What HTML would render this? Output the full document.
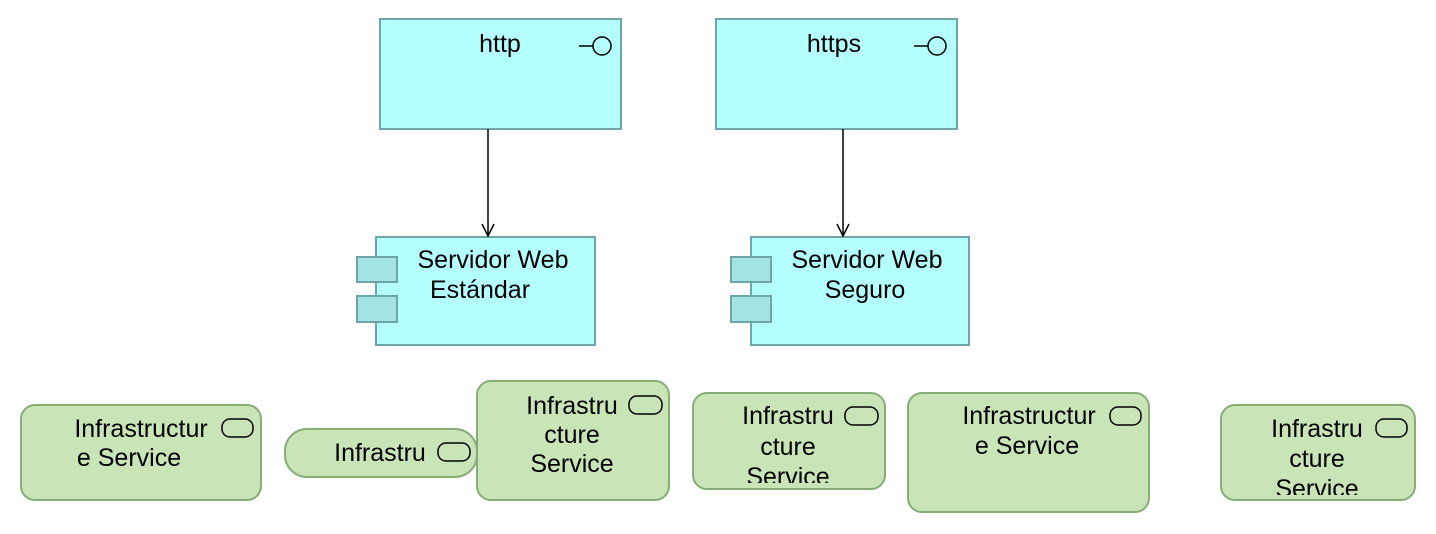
<!DOCTYPE html>
<html><head><meta charset="utf-8"><style>
html,body{margin:0;padding:0;background:#fff;}
svg{display:block}
text{font-family:"Liberation Sans",sans-serif;font-size:25px;fill:#000;text-anchor:middle}
</style></head><body>
<svg width="1436" height="534" viewBox="0 0 1436 534">
<defs>
<clipPath id="c4"><rect x="693" y="393" width="192" height="90"/></clipPath>
<clipPath id="c6"><rect x="1221" y="405" width="194" height="90"/></clipPath>
<marker id="a" markerWidth="14" markerHeight="14" refX="13" refY="7" orient="auto" markerUnits="userSpaceOnUse"><path d="M1,1 L13,7 L1,13" fill="none" stroke="#000" stroke-width="1.5"/></marker>
</defs>
<g stroke="#6fa5a5" stroke-width="2" fill="#b4ffff">
<rect x="380" y="19" width="241" height="110"/>
<rect x="716" y="19" width="241" height="110"/>
<rect x="376" y="237" width="219" height="108"/>
<rect x="751" y="237" width="218" height="108"/>
<rect x="357" y="257" width="40" height="25" fill="#a3e3e3"/>
<rect x="357" y="296" width="40" height="26" fill="#a3e3e3"/>
<rect x="731" y="257" width="40" height="25" fill="#a3e3e3"/>
<rect x="731" y="296" width="40" height="26" fill="#a3e3e3"/>
</g>
<g stroke="#000" stroke-width="1.5" fill="none">
<line x1="579" y1="46" x2="593" y2="46"/><circle cx="602" cy="46" r="9"/>
<line x1="914" y1="46" x2="928" y2="46"/><circle cx="937" cy="46" r="9"/>
</g>
<text x="500" y="52">http</text>
<text x="834" y="52">https</text>
<text x="493" y="268">Servidor Web</text><text x="480" y="298">Estándar</text>
<text x="867" y="268">Servidor Web</text><text x="865" y="298">Seguro</text>
<g stroke="#000" stroke-width="1.5">
<line x1="488" y1="129" x2="488" y2="236" marker-end="url(#a)"/>
<line x1="843" y1="129" x2="843" y2="236" marker-end="url(#a)"/>
</g>
<g stroke="#86ad76" stroke-width="2" fill="#c9e5b8">
<rect x="21" y="405" width="240" height="95" rx="14"/>
<rect x="285" y="429" width="192" height="48" rx="22"/>
<rect x="477" y="381" width="192" height="119" rx="14"/>
<rect x="693" y="393" width="192" height="96" rx="14"/>
<rect x="908" y="393" width="241" height="119" rx="14"/>
<rect x="1221" y="405" width="194" height="95" rx="14"/>
</g>
<g stroke="#000" stroke-width="1.5" fill="none">
<rect x="222" y="419" width="31" height="18" rx="8"/>
<rect x="438" y="443" width="32" height="18" rx="8"/>
<rect x="629" y="396" width="33" height="18" rx="8"/>
<rect x="845" y="407" width="33" height="18" rx="8"/>
<rect x="1110" y="407" width="31" height="18" rx="8"/>
<rect x="1376" y="419" width="31" height="18" rx="8"/>
</g>
<text x="141" y="437">Infrastructur</text><text x="129" y="466">e Service</text>
<text x="380" y="461">Infrastru</text>
<text x="572" y="414">Infrastru</text><text x="572" y="443">cture</text><text x="572" y="472">Service</text>
<g clip-path="url(#c4)"><text x="788" y="424">Infrastru</text><text x="788" y="455">cture</text><text x="788" y="485">Service</text></g>
<text x="1029" y="424">Infrastructur</text><text x="1027" y="454">e Service</text>
<g clip-path="url(#c6)"><text x="1317" y="437">Infrastru</text><text x="1317" y="467">cture</text><text x="1317" y="497">Service</text></g>
</svg>
</body></html>
